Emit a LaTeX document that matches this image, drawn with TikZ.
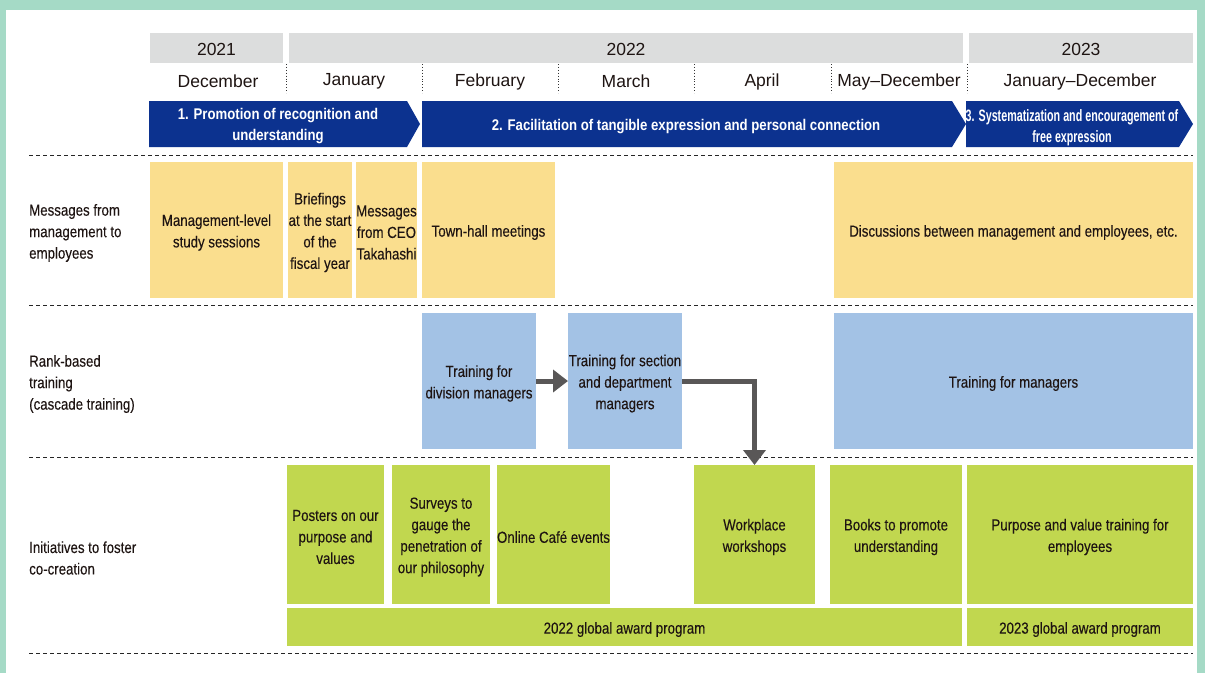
\documentclass[tikz,border=0pt]{standalone}
\usepackage{fontspec}
\setmainfont{Liberation Sans}
\newfontfamily\condf[FakeStretch=0.83,FakeBold=0.2]{Liberation Sans}
\newfontfamily\condb[FakeStretch=0.85]{Liberation Sans}
\newfontfamily\condx[FakeStretch=0.65]{Liberation Sans}
\usetikzlibrary{arrows.meta}
\definecolor{bgteal}{RGB}{165,218,198}
\definecolor{yeargray}{RGB}{220,221,221}
\definecolor{navy}{RGB}{12,50,143}
\definecolor{cyellow}{RGB}{250,222,142}
\definecolor{cblue}{RGB}{163,194,229}
\definecolor{cgreen}{RGB}{193,215,79}
\definecolor{flowgray}{RGB}{89,87,87}
\definecolor{txt}{RGB}{30,20,18}
\tikzset{
  x=1pt, y=-1pt,
  yearbar/.style={fill=yeargray, inner sep=0, outer sep=0},
  yeartext/.style={inner sep=0, text=txt, yshift=-1.5pt, font=\fontsize{17.5}{21}\selectfont},
  month/.style={inner sep=0, text=txt, yshift=-1.5pt, font=\fontsize{17.5}{21}\selectfont},
  phase/.style={fill=navy, draw=none},
  phasetext/.style={inner sep=0, align=center, text=white, yshift=-2pt, font=\condb\bfseries\fontsize{15.5}{21}\selectfont},
  phasetextnarrow/.style={inner sep=0, align=center, text=white, yshift=-2pt, font=\condx\bfseries\fontsize{16.5}{21}\selectfont},
  celltext/.style={inner sep=0, align=center, text=txt, yshift=-2.5pt, font=\condf\fontsize{16}{21.5}\selectfont},
  ybox/.style={inner sep=0, outer sep=0, fill=cyellow},
  bbox/.style={inner sep=0, outer sep=0, fill=cblue},
  gbox/.style={inner sep=0, outer sep=0, fill=cgreen},
  rowlabel/.style={anchor=west, align=left, inner sep=0, text=txt, yshift=-2pt, font=\condf\fontsize{16}{21.5}\selectfont},
  rowsep/.style={draw=black!85, line width=1pt, dash pattern=on 4pt off 3pt},
  monthsep/.style={draw=black!80, line width=0.9pt, dotted},
  flow/.style={draw=flowgray, line width=5pt, line join=miter, -{Triangle[length=15pt,width=22pt]}}
}
\newcommand\cellbox[8]{%
  \node[#6, minimum width={(#4)-(#2)}, minimum height={(#5)-(#3)}] (#1) at ({((#2)+(#4))/2},{((#3)+(#5))/2}) {};
  \node[#7] (#1-t) at (#1.center) {#8};}
\begin{document}
\begin{tikzpicture}
\useasboundingbox (0,0) rectangle (1205,673);
\fill[bgteal] (0,0) rectangle (1205,673);
\fill[white] (6,10) rectangle (1197,673);

% year bars
\cellbox{y2021}{150}{33}{283}{63}{yearbar}{yeartext}{2021}
\cellbox{y2022}{289}{33}{963}{63}{yearbar}{yeartext}{2022}
\cellbox{y2023}{969}{33}{1193}{63}{yearbar}{yeartext}{2023}

% months
\node[month] (mdec) at (218,80) {December};
\node[month] (mjan) at (354,80) {January};
\node[month] (mfeb) at (490,80) {February};
\node[month] (mmar) at (626,80) {March};
\node[month] (mapr) at (762,80) {April};
\node[month] (mmay) at (899,80) {May–December};
\node[month] (m23) at (1080,80) {January–December};
\foreach \xx in {286,422,558,694,831,967}
  \draw[monthsep] (\xx,64) -- (\xx,93);

% phases
\fill[phase] (149,101) -- (407,101) -- (420,124) -- (407,147) -- (149,147) -- cycle;
\fill[phase] (422,101) -- (952,101) -- (966,124) -- (952,147) -- (422,147) -- cycle;
\fill[phase] (966,101) -- (1179,101) -- (1193,124) -- (1179,147) -- (966,147) -- cycle;
\node[phasetext] (ph1) at (278,124.5) {1. Promotion of recognition and\\understanding};
\node[phasetext] (ph2) at (686,125) {2. Facilitation of tangible expression and personal connection};
\node[phasetextnarrow] (ph3) at (1072,125.5) {3. Systematization and encouragement of\\free expression};

% separators
\foreach \yy in {155,305,457,653}
  \draw[rowsep] (29,\yy) -- (1193,\yy);

% row labels
\node[rowlabel] (l1) at (29,231) {Messages from\\management to\\employees};
\node[rowlabel] (l2) at (29,382) {Rank-based\\training\\(cascade training)};
\node[rowlabel] (l3) at (29,556) {Initiatives to foster\\co-creation};

% row 1
\cellbox{mgmt}{150}{162}{283}{298}{ybox}{celltext}{Management-level\\study sessions}
\cellbox{brief}{288}{162}{352}{298}{ybox}{celltext}{Briefings\\at the start\\of the\\fiscal year}
\cellbox{ceo}{356}{162}{417}{298}{ybox}{celltext}{Messages\\from CEO\\Takahashi}
\cellbox{town}{422}{162}{555}{298}{ybox}{celltext}{Town-hall meetings}
\cellbox{disc}{834}{162}{1193}{298}{ybox}{celltext}{Discussions between management and employees, etc.}

% row 2
\cellbox{div}{422}{313}{536}{449}{bbox}{celltext}{Training for\\division managers}
\cellbox{sec}{568}{313}{682}{449}{bbox}{celltext}{Training for section\\and department\\managers}
\cellbox{mgr}{834}{313}{1193}{449}{bbox}{celltext}{Training for managers}

% row 3
\cellbox{post}{287}{465}{384}{604}{gbox}{celltext}{Posters on our\\purpose and\\values}
\cellbox{surv}{392}{465}{490}{604}{gbox}{celltext}{Surveys to\\gauge the\\penetration of\\our philosophy}
\cellbox{cafe}{497}{465}{610}{604}{gbox}{celltext}{Online Café events}
\cellbox{work}{694}{465}{815}{604}{gbox}{celltext}{Workplace\\workshops}
\cellbox{book}{830}{465}{962}{604}{gbox}{celltext}{Books to promote\\understanding}
\cellbox{purp}{967}{465}{1193}{604}{gbox}{celltext}{Purpose and value training for\\employees}
\cellbox{aw22}{287}{608}{962}{646}{gbox}{celltext}{2022 global award program}
\cellbox{aw23}{967}{608}{1193}{646}{gbox}{celltext}{2023 global award program}

% flow arrows
\draw[flow] (div.east) -- (sec.west);
\draw[flow] (sec.east) -| (work.north);
\end{tikzpicture}
\end{document}
